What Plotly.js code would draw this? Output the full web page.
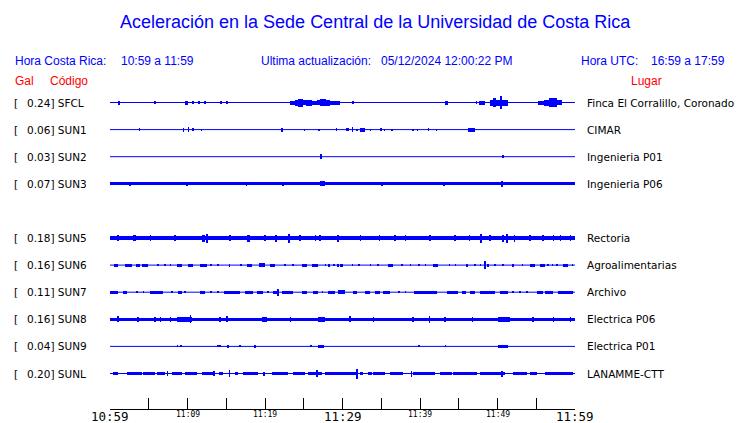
<!DOCTYPE html>
<html>
<head>
<meta charset="utf-8">
<script src="https://cdn.plot.ly/plotly-3.0.1.min.js"></script>
<style>html,body{margin:0;padding:0;background:#fff;}</style>
</head>
<body>
<div id="chart" style="width:740px;height:423px;"></div>
<script>
// ---------------- DATA ----------------
const codes  = ['SFCL','SUN1','SUN2','SUN3','SUN5','SUN6','SUN7','SUN8','SUN9','SUNL'];
const galMax = ['0.24','0.06','0.03','0.07','0.18','0.16','0.11','0.16','0.04','0.20'];
const places = ['Finca El Corralillo, Coronado','CIMAR','Ingenieria P01','Ingenieria P06',
                'Rectoria','Agroalimentarias','Archivo','Electrica P06','Electrica P01','LANAMME-CTT'];

const tickMinutes = [0,10,20,30,40,50,60];          // minutes after 10:59
const tickLabels  = ['10:59','11:09','11:19','11:29','11:39','11:49','11:59'];
const minorTickMinutes = [5,15,25,35,45,55];

const titleText = 'Aceleración en la Sede Central de la Universidad de Costa Rica';
const hdrLocal  = ['Hora Costa Rica:','10:59 a 11:59'];
const hdrUpdate = ['Ultima actualización:','05/12/2024 12:00:22 PM'];
const hdrUTC    = ['Hora UTC:','16:59 a 17:59'];
const colHeads  = ['Gal','Código','Lugar'];

// Signal envelope: [start minute, end minute, half-amplitude (display units)]
const burstsSFCL = [[1.0,1.3,2],[5.7,5.9,1.3],[9.7,10.1,2],[10.6,10.8,1.5],[11.4,11.6,1.5],[12.1,12.4,1.5],[14.2,14.4,1.3],[15.0,15.2,1.5],
  [23.2,23.9,2],[23.9,24.3,3],[24.3,24.9,4],[24.9,25.3,2.5],[25.3,26.1,3],[26.1,26.7,2],[26.7,27.1,2.5],[27.1,27.9,3.5],[27.9,28.4,3],[28.4,29.7,2],
  [31.2,31.5,1.5],[43.2,43.6,2],[47.2,47.4,1.5],[47.6,48.4,2],[49.0,49.4,3],[49.4,49.8,4.5],[49.8,50.3,3],[50.3,50.6,6.5],[50.6,51.4,3],
  [55.2,56.0,2],[56.0,56.6,3],[56.6,57.7,4.5],[57.7,58.3,2.5]];
const burstsSUN1 = [[3.7,3.9,1.5],[9.4,9.6,2],[10.0,10.2,2.5],[10.6,10.8,1.5],[11.7,11.9,1],[22.1,22.3,2],[25.0,25.2,1],[26.9,27.1,1],
  [29.1,29.3,1.5],[30.5,30.8,1.5],[31.2,31.4,2.5],[31.8,32.0,1],[32.2,32.9,2],[33.5,33.7,1],[34.9,35.1,1.5],[35.3,35.5,1],[36.3,36.5,1],
  [39.0,39.2,1],[39.6,39.8,1],[41.0,41.2,1.5],[42.0,42.2,1],[46.2,47.1,2]];
const burstsSUN2 = [[27.1,27.3,2.5],[50.6,50.8,1.5]];
const burstsSUN3 = [[0,60,1.4],[2.5,2.7,2.2],[9.8,10.0,2.2],[17.5,17.7,2.2],[22.2,22.4,2.2],[27.1,27.7,2.6],[35.0,35.2,2.1],[43.0,43.2,2.1],[50.5,50.7,3]];
const burstsSUN5 = [[0,60,2.3],[0.9,1.2,3.2],[3.0,3.3,3.2],[5.1,5.3,3],[8.3,8.5,3],[11.9,12.3,3.5],[12.4,12.6,4.5],[15.4,15.6,3],[17.7,18.0,3.5],
  [19.9,20.1,3],[21.3,21.6,3.5],[23.0,23.2,4.5],[24.4,24.6,3],[26.4,26.6,3],[27.0,27.2,3],[29.3,29.5,3.5],[32.2,32.4,3],[34.7,34.9,3],
  [36.7,36.9,3],[38.0,38.2,3],[41.2,41.4,3],[44.4,44.6,3],[46.3,46.5,3],[47.8,48.0,4.5],[48.9,49.1,3],[50.6,50.8,3.5],[51.1,51.3,4.5],
  [52.1,52.3,3.5],[54.1,54.3,3],[55.8,56.0,3],[57.1,57.3,3],[58.0,58.2,3],[59.3,59.5,3]];
const burstsSUN6 = [[0.5,1.0,1.5],[1.9,2.8,1.5],[3.4,3.9,1.5],[4.1,4.9,1.5],[6.1,6.3,1.2],[7.0,7.2,1.2],[7.7,7.9,1.2],[8.6,9.3,1.5],[10.0,10.7,1.4],
  [11.6,12.5,1.5],[12.9,13.1,1.2],[13.8,14.0,1.2],[15.3,15.5,1.4],[16.8,17.0,1.2],[17.7,18.3,1.5],[19.2,20.0,2.0],[20.6,21.3,1.4],[22.5,22.7,1.2],
  [23.5,23.7,1.2],[24.8,25.4,1.4],[26.1,26.8,1.4],[27.7,27.9,1.2],[28.1,28.4,1.4],[28.8,29.0,1.2],[29.3,29.6,1.5],[29.7,30.1,1.4],[31.2,31.4,1.2],
  [32.0,32.2,1.2],[33.5,33.7,1.2],[34.5,34.7,1.2],[35.9,36.5,1.5],[37.6,37.8,1.2],[38.7,38.9,1.2],[39.8,40.0,1.2],[40.6,40.8,1.2],[41.7,42.3,1.4],
  [43.7,43.9,1.2],[44.5,44.7,1.2],[45.9,46.2,1.4],[47.0,47.2,1.2],[47.7,47.9,1.2],[48.3,48.5,4],[48.7,48.9,1.5],[49.6,49.8,1.2],[50.6,50.8,1.2],
  [51.9,52.1,1.4],[53.1,53.3,1.2],[54.2,54.8,1.4],[55.5,56.1,1.4],[56.4,56.6,1.2],[57.0,57.2,1.2],[57.5,57.8,1.2],[58.4,59.1,1.5],[59.6,59.8,1.2]];
const burstsSUN7 = [[0,1.0,1.5],[1.7,2.2,1.5],[3.4,3.6,1.2],[4.2,4.4,1.2],[5.2,6.8,1.5],[7.9,8.1,1.2],[8.8,9.3,1.5],[9.6,9.8,1.2],[11.6,12.3,1.5],
  [12.9,13.1,1.2],[13.8,14.0,1.2],[14.7,16.8,1.5],[17.4,18.4,1.5],[19.0,19.7,1.5],[20.3,20.5,1.2],[21.0,21.7,1.5],[21.6,21.8,3.5],[22.2,23.6,1.5],
  [24.8,25.4,1.4],[26.2,26.8,1.4],[27.3,27.5,1.2],[28.1,29.0,1.5],[29.4,30.3,2.0],[31.3,31.9,1.5],[32.9,33.5,1.5],[34.2,34.8,1.5],[35.2,36.1,1.5],
  [37.2,37.4,1.2],[38.0,38.2,1.2],[39.2,42.2,1.5],[43.5,44.9,1.5],[45.4,45.9,1.5],[46.4,47.1,1.5],[47.7,49.7,1.5],[50.3,51.4,1.5],[51.9,52.1,1.2],
  [52.8,53.0,1.2],[53.7,53.9,1.2],[55.1,55.9,1.5],[56.1,57.2,1.5],[57.8,59.7,1.5]];
const burstsSUN8 = [[0,60,1.4],[0.9,1.2,3],[3.5,3.7,2.5],[5.7,5.9,2.5],[6.4,6.6,2.5],[7.7,7.9,2.5],[8.6,10.6,2.2],[10.3,10.5,4],[14.1,14.3,2.5],
  [15.0,15.2,3],[19.6,20.3,2.2],[23.2,23.4,2.5],[26.8,27.7,2.6],[30.9,31.1,3],[33.9,34.1,2.5],[39.0,39.2,2.5],[41.1,41.3,3.5],[43.1,43.3,2.5],
  [46.7,46.9,2.5],[50.0,51.6,2.6],[54.5,54.7,2.5],[57.1,57.3,2.5],[59.3,59.5,2.5]];
const burstsSUN9 = [[8.6,8.8,1],[9.0,9.3,1],[13.8,14.3,1],[15.1,15.3,1.5],[16.7,16.9,1],[18.6,18.8,1.5],[25.8,26.0,1],[26.8,27.6,1.5],
  [39.8,40.0,1],[43.2,43.4,1],[50.0,51.3,1.5]];
const burstsSUNL = [[0.4,1.0,1.5],[2.2,4.1,1.5],[4.3,5.8,1.5],[6.1,7.1,1.5],[7.3,7.5,2.5],[8.0,9.3,1.5],[9.7,11.2,1.5],[11.9,13.5,1.5],[13.3,13.5,2.5],
  [14.1,14.6,1.5],[15.3,15.5,3.5],[16.1,16.5,1.5],[17.2,19.1,1.5],[19.8,20.0,2],[20.9,23.0,1.5],[23.6,25.2,1.5],[25.5,27.4,1.5],[26.6,26.8,3.5],
  [27.7,30.3,1.5],[29.7,31.9,1.5],[31.8,32.0,5],[32.3,32.6,1.5],[33.3,33.8,1.5],[33.9,35.5,1.5],[36.1,37.8,1.5],[38.8,39.0,3],[39.1,41.9,1.5],
  [42.6,44.1,1.5],[44.3,47.4,1.5],[47.7,51.0,1.5],[50.5,50.7,3],[52.0,53.8,1.5],[54.2,55.1,1.5],[56.1,59.7,1.5]];

const bursts = [burstsSFCL,burstsSUN1,burstsSUN2,burstsSUN3,burstsSUN5,burstsSUN6,burstsSUN7,burstsSUN8,burstsSUN9,burstsSUNL];

// ---------------- DRAWING ----------------
const BLUE = '#0000ff', RED = '#ff0000';
const ROWPX = 27.1;                       // px per row
const slotOf = i => (i < 4 ? i : i + 1);  // SUN4 row is left empty
const plotL = 110, plotR = 575, plotT = 88, plotB = 409;
const px2paperX = p => (p - plotL) / (plotR - plotL);
const px2paperY = p => (plotB - p) / (plotB - plotT);
const yTop = (102.5 - plotT) / ROWPX;
const yRange = [yTop - (plotB - plotT) / ROWPX, yTop];

const traces = [];
// baselines
const bx = [], by = [];
codes.forEach((c, i) => { bx.push(0, 60, null); by.push(-slotOf(i), -slotOf(i), null); });
traces.push({type:'scatter', mode:'lines', x:bx, y:by, line:{color:BLUE, width:1}, hoverinfo:'skip'});
// signal envelopes as bars
const mx = [], mw = [], mb = [], mh = [];
bursts.forEach((list, i) => {
  const s = slotOf(i);
  list.forEach(([t0, t1, a]) => {
    mx.push((t0 + t1) / 2); mw.push(t1 - t0);
    mb.push(-s - a / ROWPX); mh.push(2 * a / ROWPX);
  });
});
traces.push({type:'bar', x:mx, y:mh, base:mb, width:mw, marker:{color:BLUE, line:{width:0}}, hoverinfo:'skip'});

const ann = [];
const A = (o) => ann.push(Object.assign({showarrow:false, borderpad:0, borderwidth:0}, o));
// title
A({text:titleText, xref:'paper', yref:'paper', x:px2paperX(375.5), y:px2paperY(22), xanchor:'center', yanchor:'middle',
   font:{family:'Liberation Sans, Arial, sans-serif', size:18, color:BLUE}});
// header line
const hf = {family:'Liberation Sans, Arial, sans-serif', size:12, color:BLUE};
[[hdrLocal[0],15],[hdrLocal[1],120.5],[hdrUpdate[0],260.5],[hdrUpdate[1],380.5],[hdrUTC[0],580.5],[hdrUTC[1],650.5]].forEach(([t,p]) =>
  A({text:t, xref:'paper', yref:'paper', x:px2paperX(p), y:px2paperY(61), xanchor:'left', yanchor:'middle', font:hf}));
const rf = {family:'Liberation Sans, Arial, sans-serif', size:12, color:RED};
[[colHeads[0],15],[colHeads[1],50],[colHeads[2],630.5]].forEach(([t,p]) =>
  A({text:t, xref:'paper', yref:'paper', x:px2paperX(p), y:px2paperY(81), xanchor:'left', yanchor:'middle', font:rf}));
// station labels
const sf = {family:'DejaVu Sans, sans-serif', size:10.5, color:'#000'};
codes.forEach((c, i) => {
  const s = -slotOf(i);
  A({text:'[', xref:'paper', yref:'y', x:px2paperX(14), y:s, xanchor:'left', yanchor:'middle', font:sf});
  A({text:galMax[i] + '] ' + c, xref:'paper', yref:'y', x:px2paperX(27), y:s, xanchor:'left', yanchor:'middle', font:sf});
  A({text:places[i], xref:'paper', yref:'y', x:px2paperX(587), y:s, xanchor:'left', yanchor:'middle', font:sf});
});
// time labels
tickMinutes.forEach((m, i) => {
  const big = (i % 3 === 0);
  A({text:tickLabels[i], xref:'x', yref:'paper', x:m, y:0, xanchor:'center', yanchor:'top', yshift: big ? 0 : -1,
     font:{family:'DejaVu Sans Mono, monospace', size: big ? 12.5 : 8, color:'#000'}});
});

const layout = {
  width:740, height:423,
  margin:{l:plotL, r:740 - plotR, t:plotT, b:423 - plotB, pad:0},
  paper_bgcolor:'#fff', plot_bgcolor:'#fff',
  showlegend:false, hovermode:false, barmode:'overlay', bargap:0,
  xaxis:{range:[0,60], showline:true, linecolor:'#000', linewidth:1, ticks:'inside', ticklen:11, tickwidth:1, tickcolor:'#000',
         tickvals: tickMinutes.concat(minorTickMinutes), showticklabels:false, showgrid:false, zeroline:false, fixedrange:true},
  yaxis:{range:yRange, visible:false, fixedrange:true},
  annotations:ann
};
Plotly.newPlot('chart', traces, layout, {displayModeBar:false, staticPlot:true});
</script>
</body>
</html>
